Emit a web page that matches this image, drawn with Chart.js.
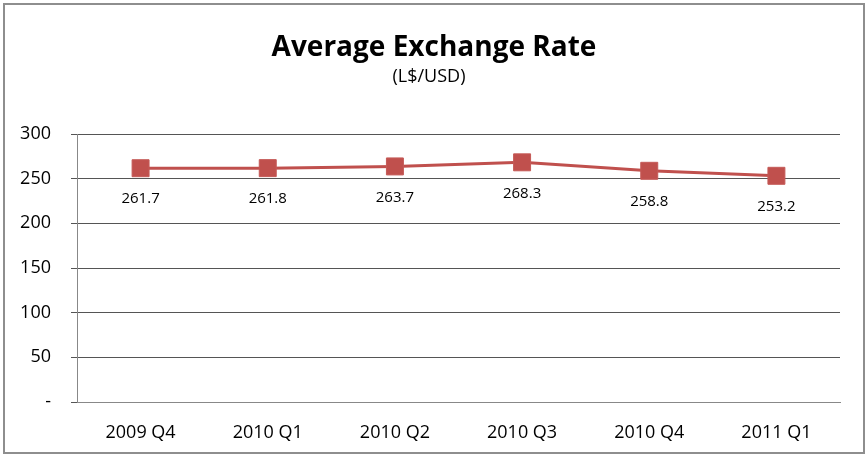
<!DOCTYPE html>
<html>
<head>
<meta charset="utf-8">
<script src="https://cdn.jsdelivr.net/npm/chart.js@4.4.1/dist/chart.umd.min.js"></script>
<style>
  body { margin: 0; background: #fff; }
  #wrap { position: absolute; left: 3px; top: 3px; width: 858px; height: 447px; border: 2px solid #8e8e8e; }
  #chart { position: absolute; left: -5px; top: -5px; }
</style>
</head>
<body>
<div id="wrap"><canvas id="chart" width="868" height="455"></canvas></div>
<script>
const quarters = ['2009 Q4', '2010 Q1', '2010 Q2', '2010 Q3', '2010 Q4', '2011 Q1'];
const rates = [261.7, 261.8, 263.7, 268.3, 258.8, 253.2];
const yTicks = [0, 50, 100, 150, 200, 250, 300];
const titleText = 'Average Exchange Rate';
const subtitleText = '(L$/USD)';

const font = "'Open Sans', 'Liberation Sans', sans-serif";

// title centred on the whole picture, not the padded box
const titles = {
  id: 'titles',
  afterDraw(chart) {
    const ctx = chart.ctx;
    ctx.save();
    ctx.fillStyle = '#000';
    ctx.textAlign = 'center';
    ctx.textBaseline = 'alphabetic';
    ctx.font = 'bold 28px ' + font;
    ctx.fillText(titleText, 434, 56);
    ctx.font = '18px ' + font;
    ctx.fillText(subtitleText, 429, 82);
    ctx.restore();
  }
};

// labels under each point, like the original
const pointLabels = {
  id: 'pointLabels',
  afterDatasetsDraw(chart) {
    const ctx = chart.ctx;
    const meta = chart.getDatasetMeta(0);
    ctx.save();
    ctx.font = '15px ' + font;
    ctx.fillStyle = '#000';
    ctx.textAlign = 'center';
    ctx.textBaseline = 'middle';
    meta.data.forEach((pt, i) => {
      ctx.fillText(rates[i].toFixed(1), pt.x, pt.y + 31);
    });
    ctx.restore();
  }
};

new Chart(document.getElementById('chart'), {
  type: 'line',
  data: {
    labels: quarters,
    datasets: [
      {
        data: rates,
        borderColor: '#c0504d',
        borderWidth: 3,
        backgroundColor: '#c0504d',
        pointStyle: 'rect',
        pointRadius: 12,
        pointBorderColor: '#c55a57',
        pointBorderWidth: 1,
        tension: 0
      },
      {
        data: rates,
        showLine: false,
        pointStyle: 'cross',
        pointRadius: 6,
        pointBorderColor: '#8a6fb0',
        pointBorderWidth: 1
      }
    ]
  },
  options: {
    responsive: false,
    animation: false,
    layout: { padding: { left: 8, right: 28, top: 134, bottom: 0 } },
    plugins: {
      legend: { display: false },
      tooltip: { enabled: false }
    },
    scales: {
      x: {
        offset: true,
        grid: { display: false, drawTicks: false },
        border: { color: '#888', width: 1 },
        ticks: { color: '#000', font: { family: font, size: 18 }, padding: 20 },
        afterFit(scale) { scale.height = 53; }
      },
      y: {
        min: 0,
        max: 300,
        afterBuildTicks(scale) { scale.ticks = yTicks.map(v => ({ value: v })); },
        grid: { color: '#555', lineWidth: 1, tickLength: 6, drawOnChartArea: true },
        border: { color: '#888', width: 1 },
        ticks: {
          color: '#000',
          font: { family: font, size: 18 },
          padding: 20,
          callback: v => v === 0 ? '-' : v
        },
        afterFit(scale) { scale.width = 69; }
      }
    }
  },
  plugins: [pointLabels, titles]
});
</script>
</body>
</html>
